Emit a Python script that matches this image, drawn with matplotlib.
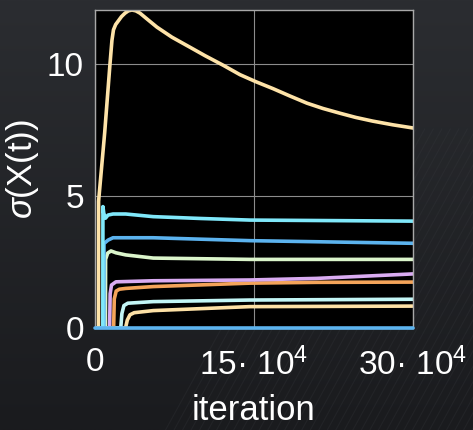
import matplotlib
matplotlib.use("Agg")
import matplotlib.pyplot as plt
import numpy as np

plt.rcParams["font.family"] = ["Liberation Sans", "DejaVu Sans"]
plt.rcParams["mathtext.fontset"] = "custom"
plt.rcParams["mathtext.rm"] = "Liberation Sans"
plt.rcParams["mathtext.it"] = "Liberation Sans:italic"

# iteration values and sigma(X(t)) for each trajectory
yellow_x = [0, 3300, 3400, 9150, 14150, 16000, 17450, 19500, 21700, 25000, 28300,
            31500, 34900, 38500, 42500, 50000, 58500, 72600, 89600, 103800, 120800,
            136800, 152000, 168000, 184000, 200000, 215000, 231000, 246000, 262000,
            281000, 300000]
yellow_y = [0, 0, 4.8, 7.4, 10.0, 10.9, 11.3, 11.5, 11.62, 11.8, 11.93,
            12.02, 12.05, 12.02, 11.93, 11.68, 11.4, 11.02, 10.64, 10.32, 9.96,
            9.6, 9.33, 9.07, 8.79, 8.52, 8.32, 8.14, 7.98, 7.84,
            7.7, 7.58]

cyan_x = [0, 7400, 7500, 8300, 9900, 12300, 17000, 29000, 55000, 100000, 146000, 300000]
cyan_y = [0, 0, 4.6, 4.35, 4.16, 4.28, 4.32, 4.32, 4.22, 4.15, 4.09, 4.05]

blue_x = [0, 8400, 8500, 12300, 17000, 55000, 146000, 300000]
blue_y = [0, 0, 3.2, 3.33, 3.42, 3.42, 3.31, 3.21]

green_x = [0, 9900, 10000, 12000, 15100, 19800, 29000, 55000, 146000, 300000]
green_y = [0, 0, 2.6, 2.84, 2.92, 2.85, 2.77, 2.65, 2.6, 2.6]

lavender_x = [0, 13800, 14300, 15600, 19800, 55000, 146000, 209000, 300000]
lavender_y = [0, 0, 1.3, 1.63, 1.75, 1.79, 1.82, 1.88, 2.05]

orange_x = [0, 17600, 18200, 20000, 23000, 29000, 55000, 146000, 209000, 300000]
orange_y = [0, 0, 1.1, 1.4, 1.47, 1.5, 1.57, 1.7, 1.73, 1.74]

ltcyan_x = [0, 24300, 25400, 27300, 31000, 55000, 146000, 300000]
ltcyan_y = [0, 0, 0.55, 0.85, 0.94, 1.0, 1.06, 1.09]

ltyellow_x = [0, 28800, 30500, 33000, 37000, 55000, 146000, 300000]
ltyellow_y = [0, 0, 0.3, 0.5, 0.58, 0.66, 0.81, 0.83]

zero_x = [0, 300000]
zero_y = [0, 0]

xticks = [0, 150000, 300000]
xticklabels = ["0", "15· 10$^4$", "30· 10$^4$"]
yticks = [0, 5, 10]

fig = plt.figure(figsize=(4.73, 4.3), dpi=100)
fig.patch.set_facecolor("#222428")

# background: dark vertical gradient with faint diagonal stripes
bg = fig.add_axes([0, 0, 1, 1], zorder=-10)
grad = np.linspace(0, 1, 256)[:, None]
bg.imshow(grad, aspect="auto", extent=[0, 1, 0, 1], origin="upper",
          cmap=matplotlib.colors.LinearSegmentedColormap.from_list("bg", ["#2b2d31", "#1a1b1e"]))
for s in np.arange(0.35, 1.6, 0.018):
    bg.plot([s, s + 0.35], [0, 0.7], color="#3a3c41", lw=0.8, alpha=0.25)
bg.set_xlim(0, 1)
bg.set_ylim(0, 1)
bg.axis("off")

ax = fig.add_axes([0.2008, 0.2372, 0.6723, 0.7395])
ax.set_facecolor("black")

lw = 2.6
kw = dict(lw=lw, solid_joinstyle="round", solid_capstyle="round")
ax.plot(zero_x, zero_y, color="#5cb3ef", clip_on=False, zorder=3, **kw)
ax.plot(ltyellow_x, ltyellow_y, color="#fde1a6", **kw)
ax.plot(ltcyan_x, ltcyan_y, color="#c3f6f6", **kw)
ax.plot(orange_x, orange_y, color="#f4a45a", **kw)
ax.plot(lavender_x, lavender_y, color="#d9abf2", **kw)
ax.plot(green_x, green_y, color="#dbf5cb", **kw)
ax.plot(blue_x, blue_y, color="#5cb3ef", **kw)
ax.plot(cyan_x, cyan_y, color="#80e8fa", **kw)
ax.plot(yellow_x, yellow_y, color="#fee3a8", **kw)

ax.set_xlim(0, 300000)
ax.set_ylim(0, 12.05)
ax.set_xticks(xticks)
ax.set_xticklabels(xticklabels)
ax.set_yticks(yticks)
ax.grid(True, color="#8c8c8c", lw=0.8)
ax.set_axisbelow(True)
for sp in ax.spines.values():
    sp.set_color("#a8a8a8")
    sp.set_linewidth(1.0)

ax.tick_params(axis="both", length=0, labelsize=24, colors="white")
ax.tick_params(axis="x", pad=14)
ax.tick_params(axis="y", pad=8)
ax.set_xlabel("iteration", fontsize=25, color="white", labelpad=9)
ax.set_ylabel(r"$\sigma$(X(t))", fontsize=25, color="white", labelpad=4)

fig.savefig("out.png", dpi=100, facecolor=fig.get_facecolor())
